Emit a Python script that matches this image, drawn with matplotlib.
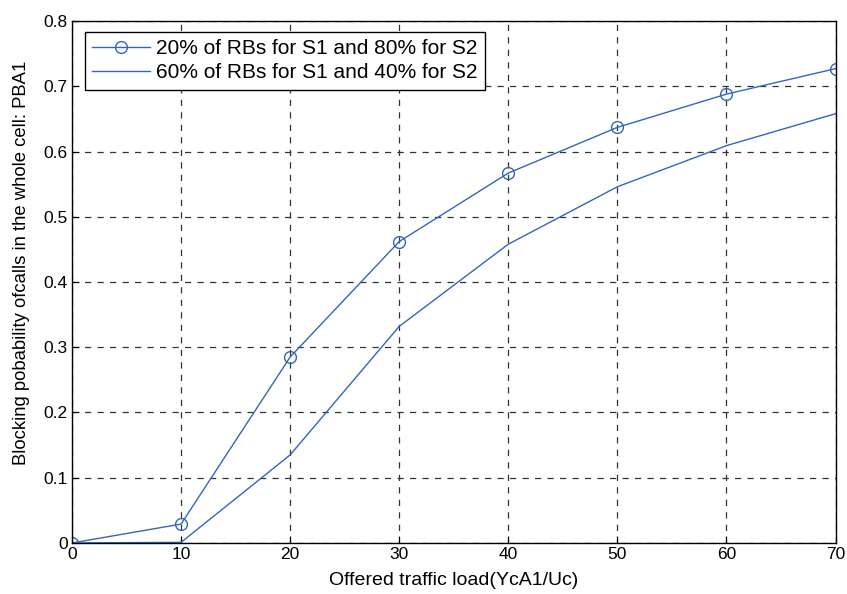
import matplotlib
matplotlib.use("Agg")
import matplotlib.pyplot as plt

plt.rcParams['font.family'] = ['Liberation Sans', 'DejaVu Sans']

x = [0, 10, 20, 30, 40, 50, 60, 70]
s1 = [0.0, 0.029, 0.285, 0.462, 0.567, 0.637, 0.688, 0.727]
s2 = [0.0, 0.001, 0.135, 0.332, 0.458, 0.546, 0.609, 0.658]
labels = ['20% of RBs for S1 and 80% for S2', '60% of RBs for S1 and 40% for S2']

fig = plt.figure(figsize=(8.47, 5.94), dpi=100)
ax = fig.add_axes([0.085, 0.0859, 0.9015, 0.8787])
color = '#3366bb'
ax.plot(x, s1, color=color, lw=1.0, marker='o', markersize=8.5, markerfacecolor='none',
        markeredgecolor=color, markeredgewidth=1.0, label=labels[0])
ax.plot(x, s2, color=color, lw=1.0, label=labels[1])

ax.set_xlim(0, 70)
ax.set_ylim(0, 0.8)
ax.set_xticks(range(0, 71, 10))
ax.set_yticks([0, 0.1, 0.2, 0.3, 0.4, 0.5, 0.6, 0.7, 0.8])
ax.set_yticklabels(['0', '0.1', '0.2', '0.3', '0.4', '0.5', '0.6', '0.7', '0.8'])
ax.tick_params(direction='in', labelsize=12.5, length=5, pad=3, top=False, right=False)
ax.grid(True, linestyle=(0, (5, 5)), color='#333333', linewidth=0.9)
for sp in ax.spines.values():
    sp.set_color('black')
    sp.set_linewidth(1.0)
ax.set_xlabel('Offered traffic load(YcA1/Uc)', fontsize=14, labelpad=7)
ax.set_ylabel('Blocking pobability ofcalls in the whole cell: PBA1', fontsize=13.3)
ax.yaxis.set_label_coords(-0.055, 0.536)

leg = ax.legend(loc='upper left', bbox_to_anchor=(0.017, 0.979), fontsize=15, frameon=True,
                fancybox=False, edgecolor='black', framealpha=1, borderpad=0.35,
                handlelength=2.75, labelspacing=0.25, handletextpad=0.3, borderaxespad=0)
leg.get_frame().set_linewidth(1.0)

fig.savefig('out.png', dpi=100)
